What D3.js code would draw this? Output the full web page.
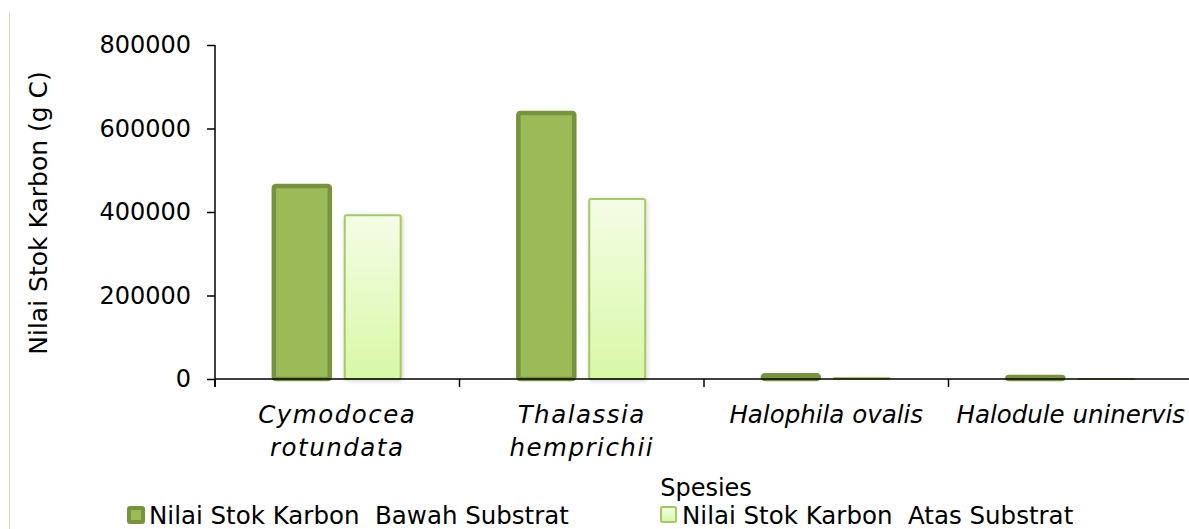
<!DOCTYPE html>
<html>
<head>
<meta charset="utf-8">
<script src="https://cdn.jsdelivr.net/npm/d3@7"></script>
<style>
  body { margin: 0; background: #fff; }
  text { font-family: "DejaVu Sans", sans-serif; fill: #000; white-space: pre; }
</style>
</head>
<body>
<div id="chart"></div>
<script>
// data
var categories = ["Cymodocea rotundata", "Thalassia hemprichii", "Halophila ovalis", "Halodule uninervis"];
var labelLines = [["Cymodocea", "rotundata"], ["Thalassia", "hemprichii"], ["Halophila ovalis"], ["Halodule uninervis"]];
var seriesNames = ["Nilai Stok Karbon  Bawah Substrat", "Nilai Stok Karbon  Atas Substrat"];
var bawah = [462000, 637000, 9000, 5000];
var atas = [392000, 431000, 3000, 1000];
var yTicks = [0, 200000, 400000, 600000, 800000];

var svgWidth = 1189, svgHeight = 529;
var plot = { left: 215, right: 1193, top: 45, bottom: 379 };

var svg = d3.select("#chart").append("svg")
  .attr("width", svgWidth)
  .attr("height", svgHeight);

var defs = svg.append("defs");
var grad = defs.append("linearGradient")
  .attr("id", "lightGrad").attr("x1", 0).attr("y1", 0).attr("x2", 0).attr("y2", 1);
grad.append("stop").attr("offset", "0%").attr("stop-color", "#f4fde6");
grad.append("stop").attr("offset", "100%").attr("stop-color", "#d8f8a6");

var shadow = defs.append("filter").attr("id", "shadow")
  .attr("x", "-20%").attr("y", "-10%").attr("width", "140%").attr("height", "120%");
shadow.append("feDropShadow")
  .attr("dx", 1).attr("dy", 1).attr("stdDeviation", 2)
  .attr("flood-color", "#000").attr("flood-opacity", 0.18);

// chart area border on the left
svg.append("line")
  .attr("x1", 9.5).attr("x2", 9.5).attr("y1", 12).attr("y2", svgHeight)
  .attr("stroke", "#d9d9c3").attr("stroke-width", 1);

// scales
var x0 = d3.scaleBand().domain(categories).range([plot.left, plot.right]).padding(0);
var x1 = d3.scaleBand().domain([0, 1]).range([0, x0.bandwidth()])
  .paddingInner(0.21).paddingOuter(0.83);
var y = d3.scaleLinear().domain([0, 800000]).range([plot.bottom, plot.top]);

// bars
var styles = [
  { fill: "#9bbb59", stroke: "#77933c", sw: 4.5, filter: null },
  { fill: "url(#lightGrad)", stroke: "#a6c964", sw: 2, filter: "url(#shadow)" }
];
[bawah, atas].forEach(function(vals, si) {
  svg.append("g").selectAll("rect")
    .data(vals)
    .enter()
    .append("rect")
    .attr("x", function(d, i) { return x0(categories[i]) + x1(si); })
    .attr("y", function(d) { return y(d); })
    .attr("width", x1.bandwidth())
    .attr("height", function(d) { return Math.max(0, y(0) - y(d)); })
    .attr("rx", 2)
    .attr("fill", styles[si].fill)
    .attr("stroke", styles[si].stroke)
    .attr("stroke-width", styles[si].sw)
    .attr("filter", styles[si].filter);
});

// y axis
var yAxis = svg.append("g")
  .attr("transform", "translate(" + plot.left + ",0)")
  .call(d3.axisLeft(y).tickValues(yTicks).tickSize(8).tickPadding(16).tickFormat(d3.format("d")));
yAxis.select(".domain").attr("stroke", "#000").attr("stroke-width", 1.5).attr("d", "M0," + plot.top + "V" + (plot.bottom + 8));
yAxis.selectAll(".tick line").attr("stroke", "#000").attr("stroke-width", 1.5);
yAxis.selectAll(".tick text").style("font-size", "24px").attr("font-family", null);

// x axis
var xAxis = svg.append("g")
  .attr("transform", "translate(0," + plot.bottom + ")")
  .call(d3.axisBottom(x0).tickSize(0).tickFormat(""));
xAxis.select(".domain").attr("stroke", "#000").attr("stroke-width", 1.5).attr("d", "M" + plot.left + ",0H" + svgWidth);
xAxis.selectAll(".tick").remove();
// ticks between categories
var boundaries = categories.map(function(c) { return x0(c); });
xAxis.selectAll(".sep")
  .data(boundaries)
  .enter()
  .append("line")
  .attr("x1", function(d) { return d; }).attr("x2", function(d) { return d; })
  .attr("y1", 0).attr("y2", 8)
  .attr("stroke", "#000").attr("stroke-width", 1.5);

// category labels
svg.append("g").selectAll("text")
  .data(labelLines)
  .enter()
  .append("text")
  .attr("text-anchor", "middle")
  .style("font-size", "24.5px")
  .style("font-style", "italic")
  .style("letter-spacing", function(d) { return d.length > 1 ? "1.5px" : "0px"; })
  .each(function(lines, i) {
    var t = d3.select(this);
    lines.forEach(function(line, j) {
      t.append("tspan")
        .attr("x", x0(categories[i]) + x0.bandwidth() / 2)
        .attr("y", 423 + j * 33)
        .text(line);
    });
  });

// axis titles
svg.append("text")
  .attr("transform", "translate(47," + ((plot.top + plot.bottom) / 2 + 1) + ") rotate(-90)")
  .attr("text-anchor", "middle")
  .style("font-size", "25px")
  .text("Nilai Stok Karbon (g C)");

svg.append("text")
  .attr("x", 706).attr("y", 496)
  .attr("text-anchor", "middle")
  .style("font-size", "24px")
  .text("Spesies");

// legend
var legendX = [127, 660];
var legend = svg.append("g").selectAll("g")
  .data(seriesNames)
  .enter()
  .append("g")
  .attr("transform", function(d, i) { return "translate(" + legendX[i] + ",506)"; });
legend.append("rect")
  .attr("x", function(d, i) { return i === 0 ? 2 : 1; })
  .attr("y", function(d, i) { return i === 0 ? 2 : 1; })
  .attr("width", function(d, i) { return i === 0 ? 14 : 15; })
  .attr("height", function(d, i) { return i === 0 ? 14 : 15; })
  .attr("rx", 1)
  .attr("fill", function(d, i) { return styles[i].fill; })
  .attr("stroke", function(d, i) { return styles[i].stroke; })
  .attr("stroke-width", function(d, i) { return i === 0 ? 4 : 2; });
legend.append("text")
  .attr("x", 22).attr("y", 18)
  .style("font-size", "24.5px")
  .text(function(d) { return d; });
</script>
</body>
</html>
